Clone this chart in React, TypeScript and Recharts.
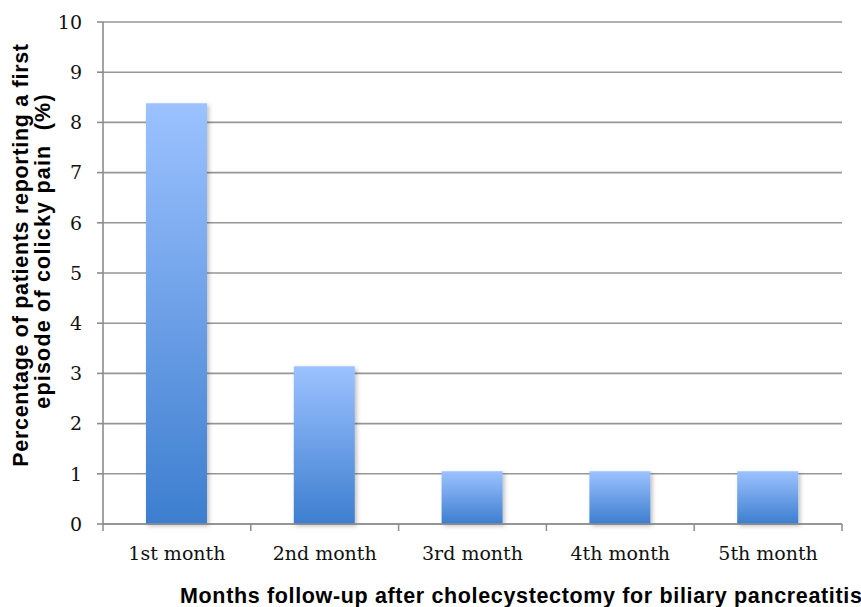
import { BarChart, Bar, XAxis, YAxis, CartesianGrid, Label } from "recharts";

const months = ["1st month", "2nd month", "3rd month", "4th month", "5th month"];
const percentages = [8.38, 3.14, 1.05, 1.05, 1.05];
const yTicks = [0, 1, 2, 3, 4, 5, 6, 7, 8, 9, 10];

const yTitle = ["Percentage of patients reporting a first", "episode of colicky pain \u00a0(%)"];
const xTitle = "Months follow-up after cholecystectomy for biliary pancreatitis";

const data = months.map((m, i) => ({ month: m, pct: percentages[i] }));

const W = 861;
const H = 607;
const PLOT_LEFT = 103;
const PLOT_RIGHT = 842;
const BAND = (PLOT_RIGHT - PLOT_LEFT) / months.length;

const SERIF = "'DejaVu Serif', serif";
const SANS = "'Liberation Sans', Arial, sans-serif";
const AXIS = "#8c8c8c";

function MonthTick({ x, y, payload, index }: any) {
  return (
    <g>
      <line x1={x - BAND / 2} x2={x - BAND / 2} y1={y} y2={y + 7} stroke={AXIS} strokeWidth={1.5} />
      {index === months.length - 1 && (
        <line x1={x + BAND / 2} x2={x + BAND / 2} y1={y} y2={y + 7} stroke={AXIS} strokeWidth={1.5} />
      )}
      <text x={x} y={y + 36} textAnchor="middle" fontFamily={SERIF} fontSize={19} fill="#111">
        {payload.value}
      </text>
    </g>
  );
}

export default function App() {
  return (
    <div style={{ position: "absolute", left: 0, top: 0, width: W, height: H, background: "#fff" }}>
      <BarChart width={W} height={H} data={data} margin={{ top: 22, right: W - PLOT_RIGHT, left: 0, bottom: 0 }}>
        <defs>
          <linearGradient id="barFill" x1="0" y1="0" x2="0" y2="1">
            <stop offset="0%" stopColor="#9cc2ff" />
            <stop offset="100%" stopColor="#3d7ecf" />
          </linearGradient>
          <filter id="barShadow" x="-20%" y="-5%" width="140%" height="115%">
            <feDropShadow dx="2" dy="2" stdDeviation="2" floodColor="#000" floodOpacity="0.25" />
          </filter>
        </defs>
        <CartesianGrid vertical={false} stroke="#969696" strokeWidth={1.6} />
        <XAxis
          dataKey="month"
          height={H - 524}
          axisLine={{ stroke: AXIS, strokeWidth: 1.6 }}
          tickLine={false}
          tickSize={0}
          tickMargin={0}
          tick={<MonthTick />}
          interval={0}
        >
          <Label
            content={() => (
              <text x={180} y={603} fontFamily={SANS} fontWeight="bold" fontSize={21.5} letterSpacing={0.65} fill="#000">
                {xTitle}
              </text>
            )}
          />
        </XAxis>
        <YAxis
          width={PLOT_LEFT}
          domain={[0, 10]}
          ticks={yTicks}
          interval={0}
          axisLine={{ stroke: AXIS, strokeWidth: 1.6 }}
          tickLine={{ stroke: AXIS, strokeWidth: 1.6 }}
          tickSize={6}
          tickMargin={15}
          tick={{ fontFamily: SERIF, fontSize: 19, fill: "#111" }}
        >
          <Label
            content={() => (
              <g fontFamily={SANS} fontWeight="bold" fontSize={21.5} fill="#000">
                <text x={28} y={255} textAnchor="middle" letterSpacing={0.7} transform="rotate(-90, 28, 255)">
                  {yTitle[0]}
                </text>
                <text x={50} y={251} textAnchor="middle" letterSpacing={1.2} transform="rotate(-90, 50, 251)">
                  {yTitle[1]}
                </text>
              </g>
            )}
          />
        </YAxis>
        <Bar dataKey="pct" fill="url(#barFill)" barSize={61} filter="url(#barShadow)" isAnimationActive={false} />
      </BarChart>
    </div>
  );
}
